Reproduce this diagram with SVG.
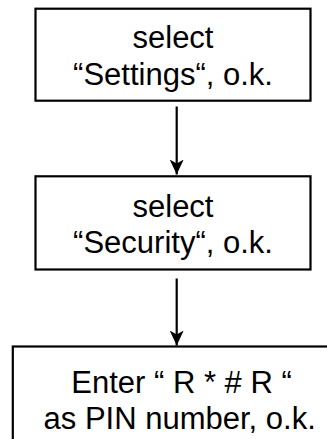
<svg xmlns="http://www.w3.org/2000/svg" width="327" height="439" viewBox="0 0 327 439">
<defs>
<style>
.box{fill:#fff;stroke:#000;stroke-width:2.2}
.t{font-family:"Liberation Sans",Arial,sans-serif;font-size:31px;fill:#000;text-anchor:middle}
.c{stroke:#000;stroke-width:2.2;fill:none}
</style>
<marker id="ah" markerUnits="userSpaceOnUse" markerWidth="16" markerHeight="16" viewBox="0 0 16 16" refX="15" refY="8" orient="auto">
<path d="M0,1 L15,8 L0,15 L4,8 Z" fill="#000"/>
</marker>
</defs>
<rect width="327" height="439" fill="#fff"/>
<g id="connectors">
<line class="c" x1="176.7" y1="106.5" x2="176.7" y2="174.5" marker-end="url(#ah)"/>
<line class="c" x1="176.7" y1="278.5" x2="176.7" y2="345.5" marker-end="url(#ah)"/>
</g>
<g id="node1">
<rect class="box" x="35.5" y="8.7" width="275" height="92"/>
<text class="t" x="173" y="48">select</text>
<text class="t" x="173" y="85">“Settings“, o.k.</text>
</g>
<g id="node2">
<rect class="box" x="35.5" y="176.3" width="275" height="93.2"/>
<text class="t" x="173" y="216.7">select</text>
<text class="t" x="173" y="253.3">“Security“, o.k.</text>
</g>
<g id="node3">
<rect class="box" x="12.8" y="346.5" width="335" height="110"/>
<text class="t" x="181.5" y="392.5">Enter “ R * # R “</text>
<text class="t" x="179.7" y="429">as PIN number, o.k.</text>
</g>
</svg>
